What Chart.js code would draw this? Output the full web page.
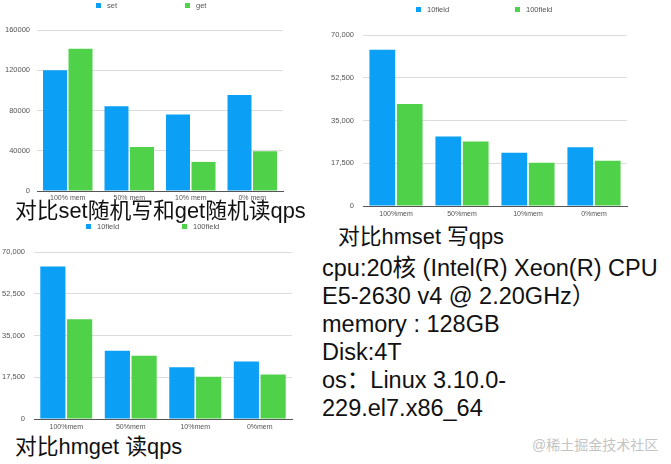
<!DOCTYPE html>
<html>
<head>
<meta charset="utf-8">
<script src="https://cdn.jsdelivr.net/npm/chart.js@4.4.1/dist/chart.umd.min.js"></script>
<style>
  body { margin:0; background:#fff; width:671px; height:464px; position:relative; overflow:hidden;
         font-family:"Liberation Sans","Noto Sans CJK SC",sans-serif; color:#111; }
  .pane { position:absolute; }
  canvas { display:block; }
  .leg { position:absolute; font-size:7.5px; color:#555; white-space:nowrap; line-height:8px; }
  .leg i { position:absolute; width:5px; height:5px; top:1px; }
  .cap { position:absolute; font-size:21.8px; line-height:24px; white-space:nowrap; color:#111; }
  .spec { position:absolute; left:322px; top:254px; font-size:23.5px; line-height:28px; white-space:nowrap; color:#111; }
  .wm { position:absolute; left:532px; top:434px; font-size:14px; color:#c4c4c4; white-space:nowrap; }
</style>
</head>
<body>
<div class="pane" style="left:0;top:0;width:300px;height:206px"><canvas id="c1"></canvas></div>
<div class="pane" style="left:320px;top:0;width:340px;height:222px"><canvas id="c2"></canvas></div>
<div class="pane" style="left:0;top:235px;width:300px;height:198px"><canvas id="c3"></canvas></div>

<div class="cap" style="left:15px;top:199px">对比set随机写和get随机读qps</div>
<div class="cap" style="left:338px;top:225px">对比hmset 写qps</div>
<div class="cap" style="left:15px;top:435px">对比hmget 读qps</div>

<div class="spec">
cpu:20核 (Intel(R) Xeon(R) CPU<br>
E5-2630 v4 @ 2.20GHz）<br>
memory : 128GB<br>
Disk:4T<br>
os：Linux 3.10.0-<br>
229.el7.x86_64
</div>
<div class="wm">@稀土掘金技术社区</div>

<script>
// categories
const memLabelsSpaced = ["100% mem", "50% mem", "10% mem", "0% mem"];
const memLabels = ["100%mem", "50%mem", "10%mem", "0%mem"];

// set / get qps
const setQps = [120000, 84300, 76000, 95300];
const getQps = [141400, 43800, 28900, 39500];

// hmset qps
const hmset10field = [64000, 28500, 21800, 24100];
const hmset100field = [41800, 26400, 17700, 18500];

// hmget qps
const hmget10field = [63900, 28600, 21700, 24100];
const hmget100field = [41800, 26500, 17700, 18700];

// tick labels
const ticksSetGet = [0, 40000, 80000, 120000, 160000];
const ticksHash = [0, 17500, 35000, 52500, 70000];

const BLUE = "#0b9ff5";
const GREEN = "#4fd24a";

function legend(left, top, items) {
  // items: [label, color, x]
  items.forEach(([txt, color, x]) => {
    const d = document.createElement("div");
    d.className = "leg";
    d.style.left = (left + x) + "px";
    d.style.top = top + "px";
    d.style.paddingLeft = "11px";
    d.innerHTML = `<i style="left:0;background:${color}"></i>${txt}`;
    document.body.appendChild(d);
  });
}

function barChart(id, labels, names, a, b, tickVals, fmt, box) {
  const ctx = document.getElementById(id).getContext("2d");
  return new Chart(ctx, {
    type: "bar",
    data: {
      labels,
      datasets: [
        { label: names[0], data: a, backgroundColor: BLUE },
        { label: names[1], data: b, backgroundColor: GREEN }
      ]
    },
    options: {
      responsive: true,
      maintainAspectRatio: false,
      animation: false,
      categoryPercentage: 0.83,
      barPercentage: 0.94,
      layout: { padding: { top: box.top, right: box.right, left: 0, bottom: 0 } },
      plugins: { legend: { display: false }, tooltip: { enabled: false } },
      scales: {
        x: {
          grid: { display: false, drawTicks: false },
          border: { color: "#555", width: 1 },
          ticks: { color: "#555", font: { size: 7, family: "Liberation Sans" }, padding: box.xPad, maxRotation: 0, autoSkip: false },
          afterFit: s => { s.height = box.xH; }
        },
        y: {
          min: tickVals[0],
          max: tickVals[tickVals.length - 1],
          afterBuildTicks: s => { s.ticks = tickVals.map(v => ({ value: v })); },
          grid: { color: "#dcdcdc", drawTicks: false },
          border: { display: false },
          ticks: { color: "#555", font: { size: 7.5, family: "Liberation Sans" }, padding: box.yPad, callback: fmt },
          afterFit: s => { s.width = box.yW; }
        }
      }
    }
  });
}

barChart("c1", memLabelsSpaced, ["set", "get"], setQps, getQps, ticksSetGet,
  v => String(v), { top: 30, right: 17, xH: 15, xPad: 3, yW: 37, yPad: 7 });
barChart("c2", memLabels, ["10field", "100field"], hmset10field, hmset100field, ticksHash,
  v => v.toLocaleString("en-US"), { top: 35, right: 33, xH: 16, xPad: 4, yW: 43, yPad: 9 });
barChart("c3", memLabels, ["10field", "100field"], hmget10field, hmget100field, ticksHash,
  v => v.toLocaleString("en-US"), { top: 17, right: 8, xH: 14, xPad: 4, yW: 34, yPad: 9 });

legend(0, 2, [["set", BLUE, 96], ["get", GREEN, 185]]);
legend(320, 6, [["10field", BLUE, 96], ["100field", GREEN, 195]]);
legend(0, 223, [["10field", BLUE, 86], ["100field", GREEN, 182]]);
</script>
</body>
</html>
